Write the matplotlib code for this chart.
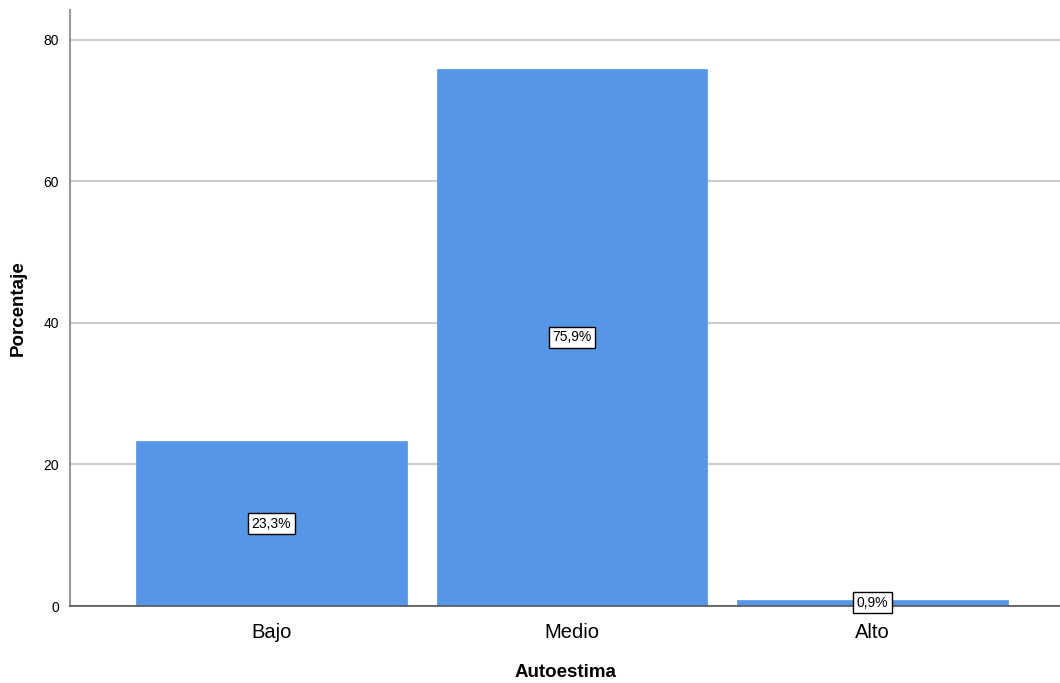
import matplotlib
matplotlib.use("Agg")
import matplotlib.pyplot as plt

categories = ["Bajo", "Medio", "Alto"]
percentages = [23.3, 75.9, 0.9]
labels = ["23,3%", "75,9%", "0,9%"]
yticks = [0, 20, 40, 60, 80]

plt.rcParams['font.family'] = ['Liberation Sans', 'DejaVu Sans']

fig = plt.figure(figsize=(10.6, 6.83), dpi=100)
ax = fig.add_axes([70/1060, 77/683, 990/1060, 596/683])

x = list(range(len(categories)))
ax.set_axisbelow(True)
ax.yaxis.grid(True, color='#cccccc', linewidth=1.5)
ax.bar(x, percentages, width=0.9, color='#5596e6', edgecolor='#5596e6', linewidth=0.5)

for xi, v, lab in zip(x, percentages, labels):
    ax.text(xi, v / 2, lab, ha='center', va='center', fontsize=10,
            bbox=dict(boxstyle='square,pad=0.25', facecolor='white', edgecolor='black', linewidth=1))

ax.set_xlim(-0.6705, 2.624)
ax.set_ylim(0, 84.2)
ax.set_yticks(yticks)
ax.set_yticklabels([str(t) for t in yticks], fontsize=10)
ax.set_xticks(x)
ax.set_xticklabels(categories, fontsize=14.5)
ax.tick_params(axis='y', length=0, pad=8)
ax.tick_params(axis='x', length=0, pad=12)

for s in ['top', 'right']:
    ax.spines[s].set_visible(False)
ax.spines['left'].set_color('#999999')
ax.spines['left'].set_linewidth(1.5)
ax.spines['bottom'].set_color('#555555')
ax.spines['bottom'].set_linewidth(1.2)

ax.set_xlabel("Autoestima", fontsize=13.5, fontweight='bold', labelpad=16)
ax.set_ylabel("Porcentaje", fontsize=13.5, fontweight='bold', labelpad=12)

fig.savefig("out.png", dpi=100)
